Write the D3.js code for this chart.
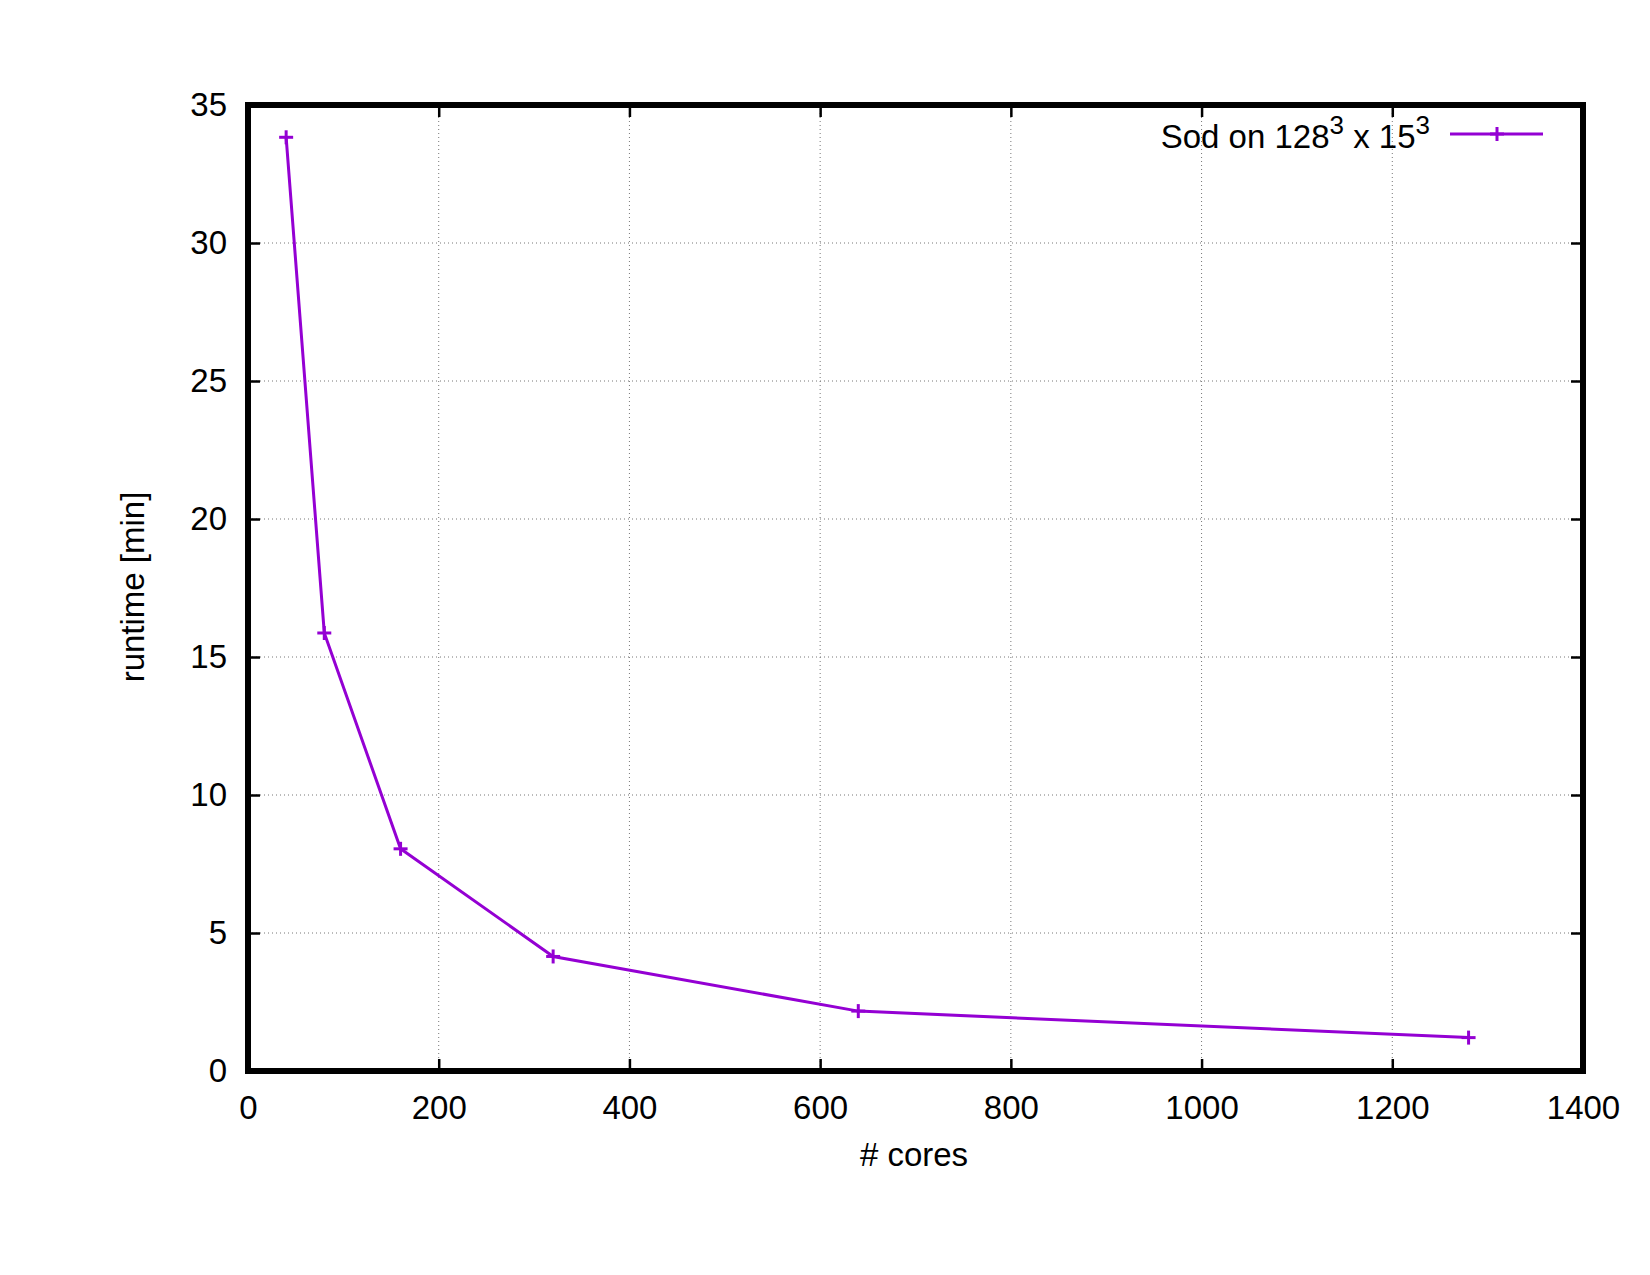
<!DOCTYPE html>
<html>
<head>
<meta charset="utf-8">
<script src="https://cdn.jsdelivr.net/npm/d3@7"></script>
<style>
html,body{margin:0;padding:0;background:#fff;}
svg{display:block;font-family:"Liberation Sans",Arial,sans-serif;}
</style>
</head>
<body>
<svg id="chart" width="1650" height="1275"></svg>
<script>
const cores = [40, 80, 160, 320, 640, 1280];
const runtime = [33.83, 15.87, 8.05, 4.15, 2.17, 1.21];
const xTicks = [0, 200, 400, 600, 800, 1000, 1200, 1400];
const yTicks = [0, 5, 10, 15, 20, 25, 30, 35];
const seriesName = "Sod on 128";
const color = "#9400d3";

const svg = d3.select("#chart");
const L = 248, R = 1583, T = 105, B = 1071;
const x = d3.scaleLinear().domain([0, 1400]).range([L, R]);
const y = d3.scaleLinear().domain([0, 35]).range([B, T]);

// grid
const grid = svg.append("g");
grid.selectAll("line.gx").data(xTicks.slice(1, -1)).enter().append("line")
  .attr("x1", d => x(d)).attr("x2", d => x(d)).attr("y1", T).attr("y2", B)
  .attr("stroke", "#777").attr("stroke-width", 1).attr("stroke-dasharray", "1,3");
grid.selectAll("line.gy").data(yTicks.slice(1, -1)).enter().append("line")
  .attr("y1", d => y(d)).attr("y2", d => y(d)).attr("x1", L).attr("x2", R)
  .attr("stroke", "#777").attr("stroke-width", 1).attr("stroke-dasharray", "1,3");

// axes with inward ticks
const fs = 33;
const xAxisB = d3.axisBottom(x).tickValues(xTicks).tickSize(-12).tickPadding(25).tickFormat(d3.format("d"));
const xAxisT = d3.axisTop(x).tickValues(xTicks).tickSize(-12).tickFormat("");
const yAxisL = d3.axisLeft(y).tickValues(yTicks).tickSize(-12).tickPadding(21).tickFormat(d3.format("d"));
const yAxisR = d3.axisRight(y).tickValues(yTicks).tickSize(-12).tickFormat("");

function style(g) {
  g.select(".domain").remove();
  g.selectAll(".tick line").attr("stroke", "#000").attr("stroke-width", 2.5);
  g.selectAll(".tick text").attr("fill", "#000").style("font-size", fs + "px")
    .style("font-family", '"Liberation Sans",Arial,sans-serif');
}
svg.append("g").attr("transform", `translate(0,${B})`).call(xAxisB).call(style);
svg.append("g").attr("transform", `translate(0,${T})`).call(xAxisT).call(style);
svg.append("g").attr("transform", `translate(${L},0)`).call(yAxisL).call(style);
svg.append("g").attr("transform", `translate(${R},0)`).call(yAxisR).call(style);

// frame
svg.append("rect").attr("x", L).attr("y", T).attr("width", R - L).attr("height", B - T)
  .attr("fill", "none").attr("stroke", "#000").attr("stroke-width", 6);

// data line
const data = cores.map((c, i) => ({c, v: runtime[i]}));
svg.append("path").datum(data)
  .attr("fill", "none").attr("stroke", color).attr("stroke-width", 3)
  .attr("d", d3.line().x(d => x(d.c)).y(d => y(d.v)));

function plus(g, cx, cy) {
  g.append("line").attr("x1", cx - 7).attr("x2", cx + 7).attr("y1", cy).attr("y2", cy)
    .attr("stroke", color).attr("stroke-width", 3);
  g.append("line").attr("x1", cx).attr("x2", cx).attr("y1", cy - 7).attr("y2", cy + 7)
    .attr("stroke", color).attr("stroke-width", 3);
}
const pts = svg.append("g");
data.forEach(d => plus(pts, x(d.c), y(d.v)));

// legend
const lg = svg.append("g");
const lt = lg.append("text").attr("x", 1430).attr("y", 148).attr("text-anchor", "end")
  .attr("fill", "#000").style("font-size", fs + "px");
lt.append("tspan").text(seriesName);
lt.append("tspan").attr("dy", -14).style("font-size", "26px").text("3");
lt.append("tspan").attr("dy", 14).text(" x 15");
lt.append("tspan").attr("dy", -14).style("font-size", "26px").text("3");
lg.append("line").attr("x1", 1450).attr("x2", 1543).attr("y1", 134).attr("y2", 134)
  .attr("stroke", color).attr("stroke-width", 3);
plus(lg, 1497, 134);

// axis labels
svg.append("text").attr("x", 914).attr("y", 1166).attr("text-anchor", "middle")
  .attr("fill", "#000").style("font-size", fs + "px").text("# cores");
svg.append("text").attr("transform", "translate(144,587) rotate(-90)").attr("text-anchor", "middle")
  .attr("fill", "#000").style("font-size", fs + "px").text("runtime [min]");
</script>
</body>
</html>
